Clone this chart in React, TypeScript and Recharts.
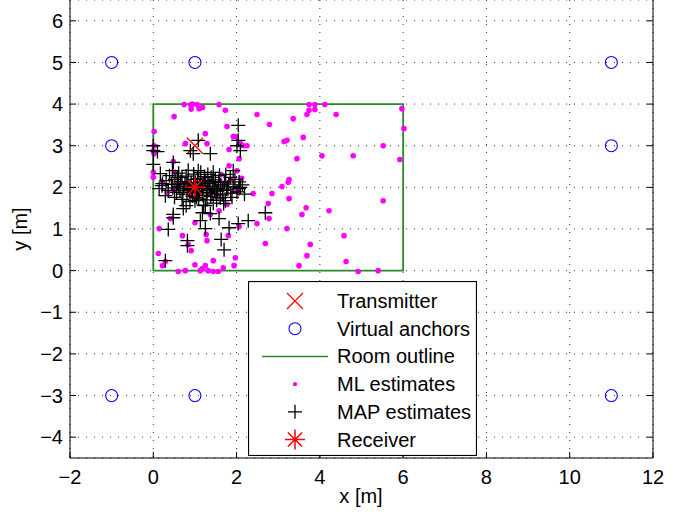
import React from 'react';
import { ScatterChart, Scatter, XAxis, YAxis, CartesianGrid, Legend, Label } from 'recharts';

const xTicks = [-2, 0, 2, 4, 6, 8, 10, 12];
const yTicks = [-4, -3, -2, -1, 0, 1, 2, 3, 4, 5, 6];

const transmitter = [[1, 3]];
const receiver = [[1, 2]];
const virtualAnchors = [[-1, 5], [1, 5], [11, 5], [-1, 3], [11, 3], [-1, -3], [1, -3], [11, -3]];
const roomOutline = [[0, 0], [6, 0], [6, 4], [0, 4], [0, 0]];

const mlEstimates = [
  [0.74, 3.99], [0.9, 3.98], [0.94, 4.0], [1.05, 3.99], [1.18, 3.92], [0.91, 3.88], [1.1, 3.89],
  [1.58, 3.99], [1.73, 3.85], [0.5, 3.7], [2.49, 3.75], [2.79, 3.51], [3.74, 3.99], [3.88, 3.99],
  [4.12, 3.99], [3.74, 3.85], [3.88, 3.87], [3.69, 3.75], [4.39, 3.75], [5.97, 3.89], [3.36, 3.65],
  [6.02, 3.41], [3.6, 3.2], [3.14, 3.1], [3.21, 3.13], [5.52, 3.0], [4.05, 2.76], [4.8, 2.76],
  [5.92, 2.67], [3.45, 2.69], [3.26, 2.19], [3.24, 2.12], [3.09, 2.02], [2.85, 1.85], [3.26, 1.73],
  [3.67, 1.51], [3.57, 1.35], [4.22, 1.44], [5.52, 1.68], [3.21, 1.01], [4.58, 0.84], [3.77, 0.63],
  [3.69, 0.36], [3.5, 0.12], [4.63, 0.22], [4.92, -0.02], [5.4, 0.0],
  [0.02, 3.34], [1.77, 3.46], [1.25, 3.29], [1.92, 3.22], [1.97, 3.22], [0.77, 3.05], [1.29, 3.05],
  [1.82, 2.91], [2.09, 3.05], [2.16, 3.0], [2.25, 3.0], [2.06, 2.69], [0.02, 3.0], [0.0, 2.88],
  [0.0, 2.36], [0.0, 2.24], [0.02, 2.81], [0.48, 2.62], [1.63, 2.31], [2.01, 2.4], [1.82, 2.52],
  [0.22, 2.12], [0.53, 2.36],
  [2.4, 1.85], [2.76, 1.61], [2.78, 1.25], [2.49, 1.13], [2.69, 0.65], [1.77, 1.59], [1.58, 1.44],
  [1.37, 1.35], [0.41, 1.25], [0.14, 1.01], [0.7, 0.84], [1.27, 0.87], [1.29, 0.72], [1.8, 0.84],
  [0.84, 0.63], [0.91, 0.48], [0.12, 0.41], [0.29, 0.22], [0.22, 0.12], [1.97, 0.31], [1.44, 0.24],
  [1.94, 0.12], [1.68, 0.07], [1.0, 0.14], [1.25, 0.12], [1.18, 0.05], [1.13, 0.0], [1.32, 0.0],
  [1.44, -0.02], [1.56, -0.02], [0.77, 0.0], [0.6, -0.02], [1.0, 1.15], [2.06, 1.06],
  [0.6, 2.1], [0.9, 1.8], [1.4, 1.9], [1.7, 2.1], [2.0, 1.9], [0.5, 1.95], [1.2, 2.2],
  [1.86, 2.18], [2.12, 2.22], [0.34, 1.88], [1.55, 1.78],
];

const mapEstimates = [
  [2.04, 3.49], [1.08, 3.13], [1.37, 2.81], [0.96, 2.81], [0.89, 2.88], [0, 3.0], [0, 2.88],
  [0.1, 2.86], [2.04, 3.13], [2.01, 3.0], [2.09, 2.88], [0, 2.55], [0.48, 2.6], [1.92, 2.4],
  [1.85, 2.24], [0.17, 2.33], [0.46, 2.4], [0.58, 2.24], [1.08, 2.4], [1.44, 2.36], [2.09, 2.0],
  [0.22, 2.09], [0.29, 1.8], [0.72, 1.49], [1.0, 1.68], [1.25, 1.56], [1.18, 1.39], [1.37, 1.37],
  [1.13, 1.2], [1.58, 1.25], [1.25, 1.01], [0.48, 1.27], [0.36, 0.99], [0.82, 0.72], [1.63, 0.75],
  [1.7, 0.5], [1.82, 1.03], [2.04, 1.13], [2.28, 1.2], [2.69, 1.39], [2.06, 1.97], [1.61, 1.75],
  [1.73, 1.68], [0.29, 0.24], [1.53, 1.97], [0.48, 1.35], [0.82, 0.6],
  [0.21, 2.04], [0.31, 2.16], [0.36, 1.93], [0.44, 2.07], [0.52, 2.19], [0.56, 1.88], [0.61, 2.02],
  [0.66, 2.14], [0.71, 1.84], [0.76, 2.06], [0.79, 2.27], [0.86, 1.94], [0.91, 2.11], [0.94, 1.79],
  [1.02, 2.01], [1.06, 2.21], [1.11, 1.92], [1.16, 2.04], [1.19, 1.81], [1.26, 2.16], [1.31, 1.96],
  [1.34, 2.09], [1.41, 1.86], [1.46, 2.01], [1.49, 2.18], [1.54, 1.91], [1.62, 2.06], [1.66, 1.82],
  [1.71, 2.13], [1.76, 1.96], [1.81, 2.08], [1.86, 1.86], [1.92, 2.02], [1.96, 2.19], [2.01, 1.89],
  [0.69, 1.71], [0.88, 1.66], [1.09, 1.72], [1.29, 1.7], [1.52, 1.69], [1.69, 1.61], [0.61, 2.34],
  [0.84, 2.41], [1.31, 2.31], [1.59, 2.29], [0.39, 2.28], [0.97, 2.32], [1.14, 2.36], [1.39, 2.24],
  [1.74, 2.31], [0.51, 1.76], [0.79, 1.56], [1.21, 1.57], [1.44, 1.62], [1.89, 1.76], [2.14, 2.06],
  [2.19, 1.84], [0.14, 1.97], [0.99, 1.9], [1.04, 1.76],
  [0.73, 1.97], [0.83, 2.09], [0.88, 2.02], [0.93, 1.93], [1.01, 2.12], [1.07, 1.86], [1.13, 2.13],
  [1.18, 1.97], [1.22, 2.09], [1.28, 1.88], [1.36, 2.03], [1.43, 2.13], [1.51, 1.84], [1.57, 2.12],
  [0.64, 1.93], [0.58, 2.08], [0.47, 1.99], [0.81, 1.88], [1.23, 2.26], [1.67, 1.93], [1.79, 2.01],
  [0.97, 2.19], [1.38, 1.78], [1.47, 1.94], [0.69, 2.24], [2.06, 2.13],
];

const toPts = (a: number[][]) => a.map(([x, y]) => ({ x, y }));

const Cross = ({ cx, cy }: any) => (
  <path d={`M${cx - 7},${cy}H${cx + 7}M${cx},${cy - 7}V${cy + 7}`} stroke="#000" strokeWidth={1.3} fill="none" />
);
const XMark = ({ cx, cy }: any) => (
  <path d={`M${cx - 8},${cy - 8}L${cx + 8},${cy + 8}M${cx - 8},${cy + 8}L${cx + 8},${cy - 8}`} stroke="#f00" strokeWidth={1.2} fill="none" />
);
const Ring = ({ cx, cy }: any) => <circle cx={cx} cy={cy} r={6} fill="none" stroke="#00f" strokeWidth={1.1} />;
const Dot = ({ cx, cy }: any) => <circle cx={cx} cy={cy} r={2.8} fill="#f0f" />;
const Star = ({ cx, cy }: any) => {
  const r = 10;
  const d = 7.07;
  return (
    <path
      d={`M${cx - r},${cy}H${cx + r}M${cx},${cy - r}V${cy + r}M${cx - d},${cy - d}L${cx + d},${cy + d}M${cx - d},${cy + d}L${cx + d},${cy - d}`}
      stroke="#f00" strokeWidth={1.5} fill="none"
    />
  );
};

const legendRows = [
  { name: 'Transmitter', icon: 'x' },
  { name: 'Virtual anchors', icon: 'o' },
  { name: 'Room outline', icon: 'line' },
  { name: 'ML estimates', icon: 'dot' },
  { name: 'MAP estimates', icon: 'plus' },
  { name: 'Receiver', icon: 'star' },
];

const LegendBox = () => (
  <svg width={229} height={175} style={{ display: 'block' }}>
    <rect x={0.5} y={0.5} width={228} height={174} fill="#fff" stroke="#000" strokeWidth={1.2} />
    {legendRows.map((r, i) => {
      const cy = 20 + i * 27.7;
      const cx = 47;
      let icon: any = null;
      if (r.icon === 'x') icon = <XMark cx={cx} cy={cy} />;
      if (r.icon === 'o') icon = <Ring cx={cx} cy={cy} />;
      if (r.icon === 'line') icon = <line x1={14} x2={80} y1={cy} y2={cy} stroke="#2a8a2a" strokeWidth={1.5} />;
      if (r.icon === 'dot') icon = <circle cx={cx} cy={cy} r={2.2} fill="#f0f" />;
      if (r.icon === 'plus') icon = <Cross cx={cx} cy={cy} />;
      if (r.icon === 'star') icon = <Star cx={cx} cy={cy} />;
      return (
        <g key={r.name}>
          {icon}
          <text x={89} y={cy + 7} fontSize={20} fill="#000">{r.name}</text>
        </g>
      );
    })}
  </svg>
);

const minus = (v: number) => String(v).replace('-', '\u2212');

export default function App() {
  return (
    <div style={{ position: 'absolute', left: 0, top: 0, fontFamily: '"Liberation Sans", Arial, sans-serif', background: '#fff' }}>
      <ScatterChart width={688} height={514} margin={{ top: 0, right: 0, bottom: 0, left: 0 }}>
        <CartesianGrid stroke="#333" strokeDasharray="1 7" />
        <XAxis
          type="number" dataKey="x" domain={[-2, 12]} ticks={xTicks} height={56}
          tickSize={-6} tickMargin={18} tickFormatter={minus}
          tick={{ fontSize: 20, fill: '#000' }} stroke="#000" allowDataOverflow
        >
          <Label content={() => <text x={361} y={503} textAnchor="middle" fontSize={20} fill="#000">x [m]</text>} />
        </XAxis>
        <YAxis
          type="number" dataKey="y" domain={[-4.5, 6.5]} ticks={yTicks} width={70}
          tickSize={-6} tickMargin={13} tickFormatter={minus}
          tick={{ fontSize: 20, fill: '#000' }} stroke="#000" allowDataOverflow
        >
          <Label content={() => <text x={27} y={229} transform="rotate(-90 27 229)" textAnchor="middle" fontSize={20} fill="#000">y [m]</text>} />
        </YAxis>
        <YAxis
          yAxisId="r" orientation="right" type="number" domain={[-4.5, 6.5]} ticks={yTicks} width={35}
          tickSize={-6} tickFormatter={() => ''} stroke="#000" allowDataOverflow
        />
        <Scatter data={toPts(transmitter)} shape={XMark} isAnimationActive={false} />
        <Scatter data={toPts(virtualAnchors)} shape={Ring} isAnimationActive={false} />
        <Scatter
          data={toPts(roomOutline)} line={{ stroke: '#2a8a2a', strokeWidth: 1.8 }} lineType="joint"
          shape={() => <g />} isAnimationActive={false}
        />
        <Scatter data={toPts(mlEstimates)} shape={Dot} isAnimationActive={false} />
        <Scatter data={toPts(mapEstimates)} shape={Cross} isAnimationActive={false} />
        <Scatter data={toPts(receiver)} shape={Star} isAnimationActive={false} />
        <Legend
          layout="vertical" align="center" verticalAlign="middle"
          wrapperStyle={{ position: 'absolute', left: 248, top: 281, width: 229, height: 175 }}
          content={() => <LegendBox />}
        />
      </ScatterChart>
    </div>
  );
}
